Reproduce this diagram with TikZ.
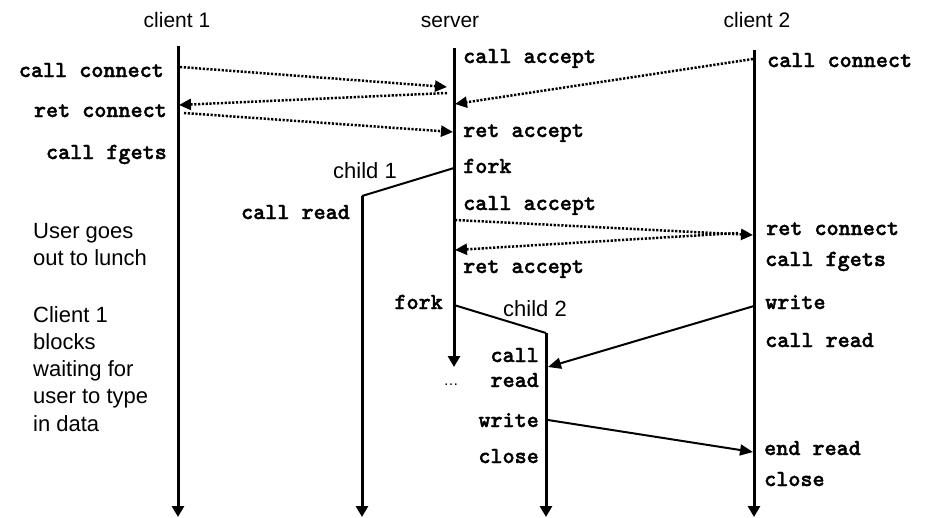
\documentclass[tikz,border=0pt]{standalone}
\usepackage{fontspec}
\setmainfont{Liberation Sans}
\newfontfamily\codefont{lmmonolt10-bold.otf}[FakeBold=1.6]
\usetikzlibrary{arrows.meta}
\begin{document}
\begin{tikzpicture}[x=1pt,y=-1pt,
  life/.style={line width=3pt,-{Triangle[length=11pt,width=12pt]}},
  msg/.style={line width=2.5pt,dash pattern=on 2.2pt off 1.6pt,-{Triangle[length=12pt,width=11pt]}},
  wmsg/.style={line width=2pt,-{Triangle[length=13pt,width=11pt]}},
  forkline/.style={line width=2pt},
  code/.style={font=\codefont\bfseries\fontsize{23}{27}\selectfont,inner sep=0pt},
  title/.style={font=\fontsize{21}{25}\selectfont,inner sep=0pt,anchor=base},
  note/.style={font=\fontsize{22}{27}\selectfont,inner sep=0pt,anchor=base west}]
\useasboundingbox (0,0) rectangle (932,517);
% lifelines
\coordinate (c1top) at (178,46);  \coordinate (c1bot) at (178,517);
\coordinate (svtop) at (454,48);  \coordinate (svbot) at (454,367);
\coordinate (c2top) at (754,50);  \coordinate (c2bot) at (754,517);
\coordinate (f1) at (454,168); \coordinate (ch1a) at (362,196); \coordinate (ch1bot) at (362,517);
\coordinate (f2) at (454,305); \coordinate (ch2a) at (546,333); \coordinate (ch2bot) at (546,517);
\draw[life] (c1top) -- (c1bot);
\draw[life] (svtop) -- (svbot);
\draw[life] (c2top) -- (c2bot);
\draw[forkline] (f1) -- (ch1a);
\draw[life] (ch1a) -- (ch1bot);
\draw[forkline] (f2) -- (ch2a);
\draw[life] (ch2a) -- (ch2bot);
% message end points
\coordinate (m1s) at (180,67);  \coordinate (m1e) at (447,87);
\coordinate (m2s) at (447,93);  \coordinate (m2e) at (179,105);
\coordinate (m3s) at (184,113); \coordinate (m3e) at (453,132);
\coordinate (m4s) at (753,59);  \coordinate (m4e) at (455,104);
\coordinate (m5s) at (455,220); \coordinate (m5e) at (753,235);
\coordinate (m6s) at (738,233); \coordinate (m6e) at (455,250);
\coordinate (w1s) at (754,306); \coordinate (w1e) at (548,367);
\coordinate (w2s) at (548,420); \coordinate (w2e) at (753,452);
\draw[msg] (m1s) -- (m1e);
\draw[msg] (m2s) -- (m2e);
\draw[msg] (m3s) -- (m3e);
\draw[msg] (m4s) -- (m4e);
\draw[msg] (m5s) -- (m5e);
\draw[msg] (m6s) -- (m6e);
\draw[wmsg] (w1s) -- (w1e);
\draw[wmsg] (w2s) -- (w2e);
% titles
\node[title] (t1) at (177,27) {client 1};
\node[title] (t2) at (450,27) {server};
\node[title] (t3) at (757,27) {client 2};
\node[title,font=\fontsize{22}{26}\selectfont] (k1) at (365,178) {child 1};
\node[title,font=\fontsize{22}{26}\selectfont] (k2) at (535,316) {child 2};
% client 1 labels
\node[code,anchor=base east] (a1) at (164,77) {call connect};
\node[code,anchor=base east] (a2) at (167,117) {ret connect};
\node[code,anchor=base east] (a3) at (167,159) {call fgets};
% server labels
\node[code,anchor=base west] (s1) at (463,63) {call accept};
\node[code,anchor=base west] (s2) at (463,137) {ret accept};
\node[code,anchor=base west] (s3) at (463,173) {fork};
\node[code,anchor=base west] (s4) at (463,210) {call accept};
\node[code,anchor=base west] (s5) at (463,273) {ret accept};
\node[code,anchor=base east] (s6) at (443,309) {fork};
% child labels
\node[code,anchor=base east] (h1) at (350,219) {call read};
\node[code,anchor=base east] (h2) at (539,362) {call};
\node[code,anchor=base east] (h3) at (539,387) {read};
\node[code,anchor=base east] (h4) at (539,427) {write};
\node[code,anchor=base east] (h5) at (539,463) {close};
\node[font=\fontsize{15}{18}\selectfont,inner sep=0pt,anchor=base] (dots) at (451,385) {\dots};
% client 2 labels
\node[code,anchor=base west] (b1) at (767,67) {call connect};
\node[code,anchor=base west] (b2) at (766,235) {ret connect};
\node[code,anchor=base west] (b3) at (765,266) {call fgets};
\node[code,anchor=base west] (b4) at (765,309) {write};
\node[code,anchor=base west] (b5) at (765,347) {call read};
\node[code,anchor=base west] (b6) at (764,455) {end read};
\node[code,anchor=base west] (b7) at (764,486) {close};
% notes
\node[note] (n1) at (33,238) {User goes};
\node[note] (n2) at (33,265) {out to lunch};
\node[note] (n3) at (33,322) {Client 1};
\node[note] (n4) at (33,349) {blocks};
\node[note] (n5) at (33,376) {waiting for};
\node[note] (n6) at (33,403) {user to type};
\node[note] (n7) at (33,431) {in data};
\end{tikzpicture}
\end{document}
